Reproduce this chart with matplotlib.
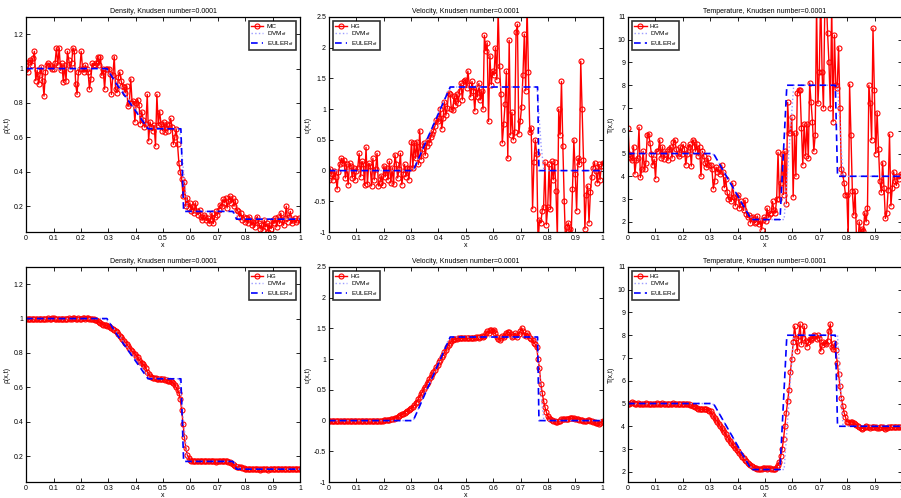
import numpy as np
import matplotlib
matplotlib.use("Agg")
import matplotlib.pyplot as plt

plt.rcParams['font.family'] = ['Liberation Sans', 'DejaVu Sans']
plt.rcParams['mathtext.fontset'] = 'custom'
plt.rcParams['mathtext.rm'] = 'Liberation Sans'
plt.rcParams['mathtext.it'] = 'Liberation Sans:italic'

# grid of the particle / HG solution (200 cells)
x = np.linspace(0, 1, 200)

# ---- top row: noisy solutions ----
rho_mc = [
    1.00, 0.98, 1.04, 1.05, 1.02, 1.06, 1.10, 0.93, 0.99, 0.91, 0.96, 1.01, 0.93, 0.84, 0.98, 1.02, 1.03, 1.02, 1.01, 1.00,
    1.00, 1.03, 1.12, 1.02, 1.12, 0.99, 1.03, 0.92, 1.02, 0.93, 1.10, 1.05, 1.00, 1.03, 1.12, 1.10, 0.91, 0.85, 0.98, 1.00,
    1.10, 1.00, 0.98, 1.02, 1.00, 0.98, 0.88, 0.94, 1.03, 1.02, 1.02, 1.03, 1.07, 1.02, 1.07, 0.96, 1.00, 0.88, 1.00, 1.00,
    1.00, 0.97, 0.85, 0.96, 1.07, 0.88, 0.86, 0.95, 0.98, 0.93, 0.90, 0.89, 0.86, 0.90, 0.78, 0.80, 0.94, 0.80, 0.81, 0.69,
    0.80, 0.82, 0.79, 0.68, 0.75, 0.70, 0.66, 0.68, 0.85, 0.58, 0.69, 0.66, 0.64, 0.67, 0.55, 0.85, 0.67, 0.75, 0.68, 0.64,
    0.69, 0.63, 0.68, 0.64, 0.67, 0.71, 0.66, 0.56, 0.60, 0.65, 0.56, 0.45, 0.40, 0.36, 0.26, 0.34, 0.20, 0.25, 0.19, 0.22,
    0.17, 0.20, 0.16, 0.22, 0.17, 0.15, 0.18, 0.14, 0.12, 0.15, 0.14, 0.12, 0.13, 0.10, 0.12, 0.16, 0.10, 0.14, 0.17, 0.15,
    0.18, 0.21, 0.20, 0.24, 0.22, 0.25, 0.19, 0.23, 0.26, 0.22, 0.25, 0.20, 0.23, 0.18, 0.17, 0.14, 0.16, 0.12, 0.14, 0.11,
    0.13, 0.10, 0.14, 0.12, 0.09, 0.11, 0.08, 0.12, 0.14, 0.10, 0.07, 0.09, 0.06, 0.12, 0.08, 0.10, 0.05, 0.09, 0.07, 0.12,
    0.10, 0.13, 0.08, 0.14, 0.10, 0.16, 0.12, 0.09, 0.13, 0.20, 0.11, 0.14, 0.17, 0.10, 0.12, 0.13, 0.11, 0.12, 0.13, 0.12]

u_noisy = [
    -0.15, 0.03, -0.05, -0.15, 0.00, -0.10, -0.30, -0.02, 0.10, 0.20, 0.12, 0.18, -0.12, 0.10, -0.23, 0.12, 0.08, -0.12, 0.05, -0.15,
    0.00, 0.05, 0.28, -0.10, 0.15, 0.10, -0.24, 0.38, -0.22, 0.12, 0.08, -0.25, 0.20, -0.15, 0.02, 0.28, -0.25, -0.20, -0.08, -0.24,
    0.08, -0.10, 0.05, -0.15, 0.15, -0.20, 0.05, -0.22, 0.26, 0.10, -0.12, 0.03, 0.28, -0.23, -0.05, 0.10, -0.10, 0.05, -0.15, 0.05,
    0.47, 0.05, 0.45, 0.20, 0.47, 0.10, 0.65, 0.18, 0.35, 0.45, 0.25, 0.40, 0.50, 0.45, 0.55, 0.60, 0.65, 0.72, 0.82, 0.80,
    0.85, 1.00, 0.68, 0.85, 1.12, 0.90, 1.02, 1.27, 1.25, 1.00, 0.98, 1.22, 1.07, 1.25, 1.10, 1.30, 1.42, 1.15, 1.45, 1.48,
    1.35, 1.62, 1.40, 1.20, 1.45, 1.30, 0.97, 1.35, 1.20, 1.42, 1.15, 1.30, 1.00, 2.20, 1.95, 2.08, 0.80, 1.87, 1.40, 1.62,
    1.55, 2.00, 1.48, 2.60, 1.70, 1.25, 0.45, 0.75, 1.08, 1.62, 0.20, 2.12, 0.58, 0.95, 0.50, 0.62, 2.25, 2.38, 0.60, 0.80,
    1.03, 1.55, 2.22, 1.30, 2.70, 1.60, 0.62, 0.70, -0.62, 0.14, 0.50, 0.27, -1.20, -0.80, -0.85, -0.65, -0.60, 0.14, -0.88, -0.60,
    0.10, -0.62, 0.15, -0.15, 0.14, -0.33, -1.10, 1.00, 0.58, 1.45, 0.40, -0.50, -1.20, -0.92, -0.85, -0.95, -1.10, -0.30, 0.50, -0.05,
    -0.65, 0.20, 0.10, 1.78, 1.00, 0.18, -0.95, -0.40, -0.25, -0.85, -0.35, -0.10, 0.05, 0.13, 0.00, -0.20, 0.10, -0.15, 0.08, 0.13]

T_noisy = [
    6.10, 5.00, 4.80, 4.70, 5.30, 4.10, 4.70, 4.80, 6.15, 3.95, 4.30, 5.10, 4.30, 4.60, 5.80, 5.85, 5.45, 5.00, 4.50, 4.75,
    3.90, 5.10, 5.10, 5.60, 4.80, 5.30, 4.75, 5.00, 5.10, 4.70, 5.20, 5.30, 4.80, 5.50, 5.60, 5.20, 5.00, 4.90, 5.30, 5.00,
    5.40, 5.20, 4.50, 5.00, 5.30, 5.40, 4.45, 5.60, 5.50, 5.10, 5.40, 4.90, 5.30, 4.00, 5.10, 4.90, 4.60, 4.40, 4.80, 4.50,
    4.50, 4.30, 3.45, 3.80, 4.40, 4.20, 4.30, 4.10, 4.50, 4.20, 3.50, 3.90, 3.30, 3.00, 3.10, 2.90, 3.70, 3.10, 2.70, 3.10,
    3.20, 2.60, 2.90, 2.75, 2.50, 2.95, 2.35, 2.20, 2.30, 1.95, 2.15, 2.20, 1.95, 2.00, 2.25, 1.90, 2.05, 1.65, 2.10, 2.20,
    2.05, 2.60, 2.20, 2.35, 2.40, 2.90, 2.50, 2.40, 3.00, 5.05, 3.00, 3.70, 5.00, 3.20, 5.10, 2.80, 7.25, 5.90, 5.90, 6.60,
    3.10, 5.90, 4.00, 7.65, 7.80, 7.80, 6.10, 4.50, 6.30, 4.90, 6.30, 4.80, 8.10, 7.25, 6.40, 5.10, 5.80, 11.50, 7.20, 8.60,
    12.00, 8.60, 7.00, 11.50, 12.00, 10.30, 9.00, 7.00, 11.50, 6.40, 10.20, 8.00, 7.90, 9.65, 7.00, 4.30, 4.10, 3.70, 3.20, 3.20,
    1.30, 8.05, 5.80, 3.35, 2.30, 3.35, 1.30, 1.00, 2.00, 1.50, 1.70, 1.60, 2.40, 2.00, 2.60, 8.00, 7.20, 5.60, 10.50, 7.80,
    5.00, 6.80, 5.20, 3.80, 3.30, 4.60, 3.50, 2.15, 2.40, 3.40, 5.85, 2.70, 3.50, 4.20, 3.80, 3.60, 4.00, 3.90, 4.10, 4.00]

# ---- bottom row: HG solutions ----
rho_hg = [
    1.00, 1.00, 1.00, 0.995, 1.00, 1.00, 0.995, 1.00, 1.00, 1.00, 0.995, 1.00, 1.00, 1.00, 1.00, 1.00, 1.005, 1.00, 1.00, 1.005,
    1.005, 1.00, 1.00, 1.00, 1.00, 0.995, 1.00, 1.00, 1.00, 1.00, 1.00, 1.005, 1.00, 1.00, 1.005, 1.005, 1.00, 1.00, 1.005, 1.00,
    1.00, 1.005, 1.005, 1.00, 1.005, 1.005, 1.00, 1.00, 1.00, 0.995, 0.99, 0.99, 0.985, 0.98, 0.975, 0.97, 0.965, 0.96, 0.96, 0.955,
    0.955, 0.95, 0.945, 0.94, 0.935, 0.93, 0.92, 0.91, 0.90, 0.89, 0.88, 0.87, 0.86, 0.85, 0.84, 0.83, 0.82, 0.81, 0.80, 0.795,
    0.785, 0.775, 0.76, 0.75, 0.74, 0.735, 0.725, 0.71, 0.69, 0.675, 0.665, 0.66, 0.655, 0.655, 0.655, 0.65, 0.65, 0.65, 0.65, 0.65,
    0.65, 0.645, 0.645, 0.64, 0.64, 0.635, 0.63, 0.625, 0.615, 0.60, 0.585, 0.57, 0.53, 0.47, 0.39, 0.31, 0.25, 0.21, 0.19, 0.18,
    0.175, 0.17, 0.17, 0.17, 0.17, 0.17, 0.17, 0.17, 0.17, 0.17, 0.17, 0.17, 0.17, 0.17, 0.17, 0.17, 0.17, 0.17, 0.165, 0.17,
    0.17, 0.17, 0.175, 0.175, 0.175, 0.17, 0.17, 0.165, 0.165, 0.16, 0.155, 0.15, 0.145, 0.14, 0.14, 0.135, 0.135, 0.13, 0.13, 0.125,
    0.125, 0.125, 0.125, 0.125, 0.125, 0.125, 0.125, 0.128, 0.125, 0.125, 0.122, 0.125, 0.125, 0.125, 0.125, 0.125, 0.122, 0.125, 0.125, 0.125,
    0.125, 0.125, 0.125, 0.125, 0.125, 0.125, 0.125, 0.125, 0.125, 0.125, 0.125, 0.125, 0.125, 0.125, 0.125, 0.128, 0.128, 0.125, 0.125, 0.125]

u_hg = [
    0.00, 0.00, 0.00, 0.00, 0.00, 0.00, 0.00, 0.00, 0.00, 0.00, 0.00, 0.00, 0.00, 0.00, 0.00, 0.00, 0.00, 0.00, 0.00, 0.00,
    0.00, 0.00, 0.00, 0.00, 0.00, 0.00, 0.00, 0.00, 0.00, 0.00, 0.00, 0.00, 0.00, 0.00, 0.00, 0.00, 0.00, 0.00, 0.00, 0.00,
    0.005, 0.008, 0.01, 0.012, 0.015, 0.02, 0.025, 0.03, 0.04, 0.05, 0.06, 0.075, 0.09, 0.10, 0.115, 0.13, 0.145, 0.16, 0.18, 0.19,
    0.20, 0.22, 0.25, 0.28, 0.31, 0.35, 0.39, 0.43, 0.47, 0.51, 0.55, 0.59, 0.63, 0.67, 0.71, 0.75, 0.79, 0.83, 0.87, 0.91,
    0.95, 0.99, 1.03, 1.07, 1.11, 1.15, 1.19, 1.23, 1.26, 1.29, 1.31, 1.32, 1.33, 1.335, 1.34, 1.34, 1.34, 1.34, 1.34, 1.34,
    1.34, 1.34, 1.345, 1.35, 1.34, 1.35, 1.35, 1.36, 1.36, 1.35, 1.36, 1.37, 1.36, 1.38, 1.42, 1.45, 1.43, 1.47, 1.48, 1.46,
    1.48, 1.42, 1.36, 1.33, 1.31, 1.34, 1.38, 1.36, 1.39, 1.42, 1.44, 1.44, 1.41, 1.36, 1.38, 1.42, 1.40, 1.36, 1.41, 1.46,
    1.51, 1.46, 1.40, 1.37, 1.42, 1.39, 1.35, 1.33, 1.31, 1.27, 1.24, 1.19, 1.00, 0.85, 0.60, 0.45, 0.32, 0.22, 0.14, 0.08,
    0.04, 0.02, 0.01, 0.00, -0.01, -0.02, -0.02, -0.01, 0.00, 0.02, 0.03, 0.03, 0.025, 0.02, 0.03, 0.035, 0.04, 0.04, 0.035, 0.03,
    0.02, 0.02, 0.015, 0.01, 0.005, 0.00, 0.00, 0.00, 0.005, 0.01, 0.00, -0.01, -0.02, -0.03, -0.04, -0.045, -0.05, -0.04, -0.02, 0.00]

T_hg = [
    5.00, 5.00, 5.02, 5.05, 5.02, 5.00, 5.00, 5.02, 5.00, 5.00, 5.00, 5.00, 5.00, 5.02, 5.00, 5.00, 5.00, 5.00, 5.00, 5.00,
    5.00, 5.02, 5.00, 5.00, 5.00, 5.02, 5.00, 5.00, 5.00, 5.00, 5.00, 5.00, 5.00, 5.02, 5.00, 5.00, 5.00, 5.00, 5.00, 5.00,
    5.00, 4.98, 4.98, 4.97, 4.96, 4.95, 4.93, 4.90, 4.87, 4.83, 4.80, 4.78, 4.76, 4.75, 4.75, 4.74, 4.75, 4.74, 4.72, 4.68,
    4.65, 4.55, 4.45, 4.35, 4.27, 4.20, 4.10, 4.00, 3.92, 3.83, 3.75, 3.65, 3.55, 3.45, 3.37, 3.28, 3.20, 3.12, 3.05, 2.97,
    2.90, 2.82, 2.75, 2.67, 2.60, 2.53, 2.46, 2.40, 2.35, 2.30, 2.25, 2.20, 2.17, 2.15, 2.13, 2.12, 2.12, 2.13, 2.15, 2.17,
    2.15, 2.13, 2.15, 2.17, 2.14, 2.12, 2.12, 2.13, 2.20, 2.30, 2.45, 2.70, 3.00, 3.45, 4.00, 4.60, 5.10, 5.60, 6.40, 6.95,
    7.70, 8.40, 7.90, 7.30, 7.95, 8.50, 7.60, 7.90, 8.40, 7.75, 7.50, 7.70, 7.85, 7.80, 7.90, 8.00, 7.95, 7.85, 8.00, 7.90,
    7.30, 7.55, 7.70, 7.65, 7.60, 7.75, 8.20, 8.50, 7.50, 7.40, 7.65, 7.35, 6.80, 6.30, 5.75, 5.25, 4.90, 4.60, 4.40, 4.20,
    4.20, 4.15, 4.20, 4.18, 4.15, 4.10, 4.05, 4.00, 3.95, 3.92, 3.90, 3.92, 3.95, 4.00, 3.98, 3.95, 3.93, 3.95, 3.97, 3.95,
    3.95, 3.93, 3.92, 3.95, 3.97, 3.95, 3.92, 3.90, 3.92, 3.95, 3.97, 3.98, 3.96, 3.95, 3.97, 3.98, 3.96, 3.95, 3.97, 3.98]

# ---- reference solutions (breakpoints) ----
xe_rho = [0, 0.295, 0.33, 0.37, 0.41, 0.445, 0.565, 0.575, 0.755, 0.768, 1]
ye_rho = [1, 1, 0.91, 0.82, 0.73, 0.65, 0.65, 0.17, 0.17, 0.125, 0.125]
xd_rho = [0, 0.28, 0.30, 0.34, 0.38, 0.42, 0.45, 0.56, 0.575, 0.59, 0.755, 0.775, 0.79, 1]
yd_rho = [1, 1, 0.985, 0.90, 0.81, 0.72, 0.655, 0.65, 0.40, 0.17, 0.17, 0.14, 0.125, 0.125]

xe_u = [0, 0.308, 0.443, 0.762, 0.767, 1]
ye_u = [0, 0, 1.36, 1.36, 0, 0]
xd_u = [0, 0.30, 0.31, 0.435, 0.45, 0.76, 0.775, 0.785, 1]
yd_u = [0, 0, 0.02, 1.30, 1.36, 1.36, 0.40, 0, 0]

xe_T = [0, 0.312, 0.45, 0.555, 0.58, 0.757, 0.765, 1]
ye_T = [5, 5, 2.1, 2.1, 8.0, 8.0, 4.0, 4.0]
xd_T = [0, 0.30, 0.315, 0.44, 0.46, 0.57, 0.59, 0.605, 0.765, 0.775, 0.785, 1]
yd_T = [5, 5, 4.95, 2.3, 2.1, 2.1, 5.5, 8.0, 8.0, 6.0, 4.0, 4.0]

titles = ['Density, Knudsen number=0.0001', 'Velocity, Knudsen number=0.0001',
          'Temperature, Knudsen number=0.0001']
ylabels = ['\u03c1(x,t)', 'u(x,t)', 'T(x,t)']
ylims = [(0.05, 1.3), (-1, 2.5), (1.55, 11)]
yticks = [[0.2, 0.4, 0.6, 0.8, 1, 1.2],
          [-1, -0.5, 0, 0.5, 1, 1.5, 2, 2.5],
          [2, 3, 4, 5, 6, 7, 8, 9, 10, 11]]
ytick_labels = [['0.2', '0.4', '0.6', '0.8', '1', '1.2'],
                ['-1', '-0.5', '0', '0.5', '1', '1.5', '2', '2.5'],
                ['2', '3', '4', '5', '6', '7', '8', '9', '10', '11']]
xticks = [0, 0.1, 0.2, 0.3, 0.4, 0.5, 0.6, 0.7, 0.8, 0.9, 1]
xtick_labels = ['0', '0.1', '0.2', '0.3', '0.4', '0.5', '0.6', '0.7', '0.8', '0.9', '1']

top_labels = ['MC', 'HG', 'HG']
bot_labels = ['HG', 'HG', 'HG']
leg_locs = ['upper right', 'upper left', 'upper left']

refs = [(xd_rho, yd_rho, xe_rho, ye_rho), (xd_u, yd_u, xe_u, ye_u), (xd_T, yd_T, xe_T, ye_T)]
rows = [([rho_mc, u_noisy, T_noisy], top_labels), ([rho_hg, u_hg, T_hg], bot_labels)]

fig = plt.figure(figsize=(9.01, 4.98), dpi=100)
lefts = [0.029, 0.365, 0.697]
bottoms = [0.534, 0.032]

for r, (series, labels) in enumerate(rows):
    for c in range(3):
        ax = fig.add_axes([lefts[c], bottoms[r], 0.304, 0.432])
        xd, yd, xe, ye = refs[c]
        ax.plot(x, series[c], '-o', color='red', lw=1.0, ms=3.6, mfc='none', mew=0.8,
                label=labels[c])
        ax.plot(xd, yd, ':', color='#9b9bff', lw=1.0, label=r'DVM$_{\rm rif}$')
        ax.plot(xe, ye, '--', color='blue', lw=1.2, dashes=(4, 2.5), label=r'EULER$_{\rm rif}$')
        ax.set_xlim(0, 1)
        ax.set_ylim(*ylims[c])
        ax.set_xticks(xticks)
        ax.set_xticklabels(xtick_labels)
        ax.set_yticks(yticks[c])
        ax.set_yticklabels(ytick_labels[c])
        ax.tick_params(direction='in', top=True, right=True, length=3, width=0.6,
                       labelsize=5, pad=2)
        for s in ax.spines.values():
            s.set_linewidth(0.9)
        ax.set_title(titles[c], fontsize=5, pad=3)
        ax.set_xlabel('x', fontsize=5, labelpad=0)
        ax.set_ylabel(ylabels[c], fontsize=5, labelpad=2)
        leg = ax.legend(loc=leg_locs[c], fontsize=4.6, frameon=True, fancybox=False,
                        borderpad=0.3, labelspacing=0.1, handlelength=1.9,
                        handletextpad=0.5, borderaxespad=0.7)
        leg.get_frame().set_edgecolor('black')
        leg.get_frame().set_linewidth(1.2)

fig.savefig('out.png', dpi=100)
